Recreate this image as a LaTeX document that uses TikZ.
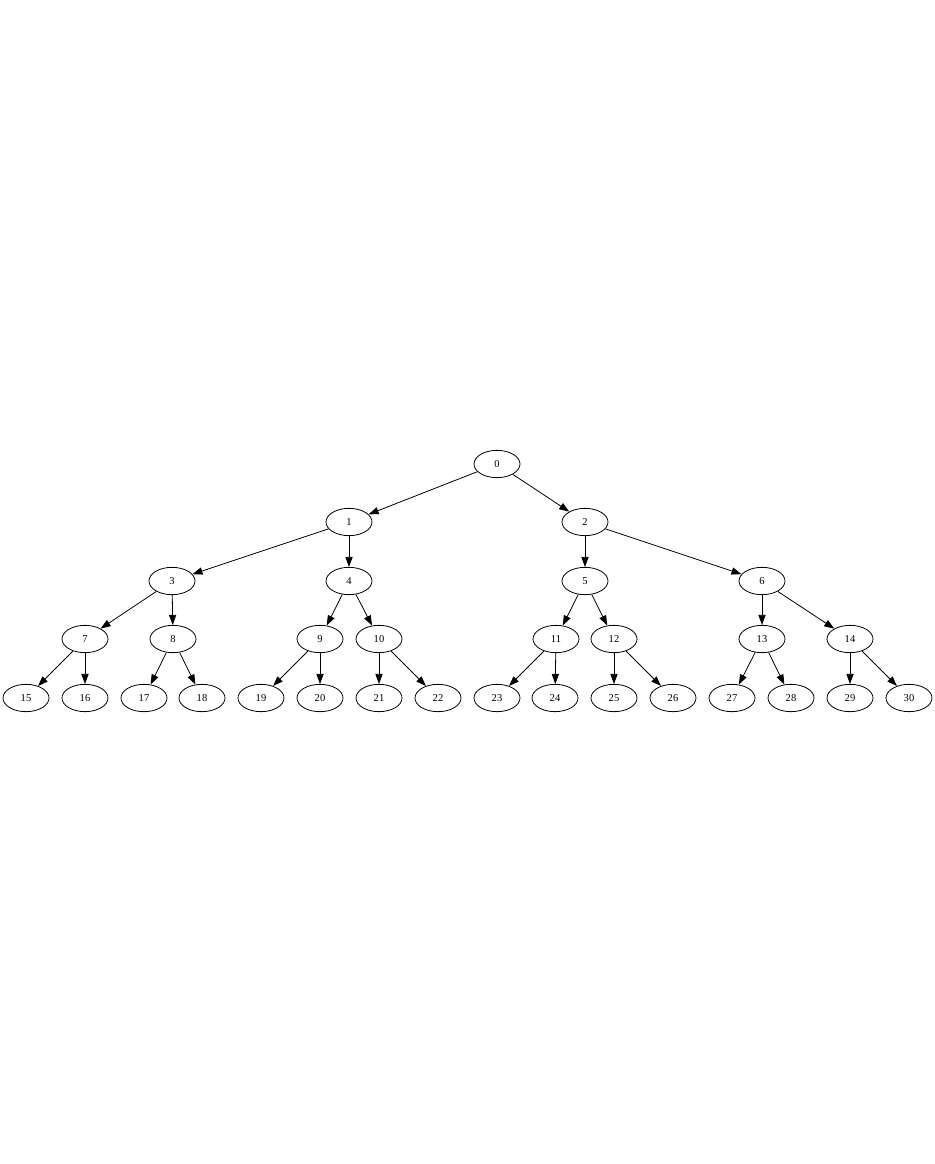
\documentclass[tikz,border=0pt]{standalone}
\usepackage{fontspec}
\setmainfont{Liberation Serif}
\usetikzlibrary{shapes.geometric,arrows.meta}
\begin{document}
\begin{tikzpicture}[x=0.75pt,y=-0.75pt,
  tn/.style={draw,ellipse,minimum width=34.5pt,minimum height=20.5pt,inner sep=0pt,font=\fontsize{7.9}{9}\selectfont,line width=0.6pt},
  ed/.style={-{Triangle[length=7.5pt,width=5.4pt]},line width=0.6pt}]
\useasboundingbox (0,0) rectangle (935,1164);
\node[tn] (n0) at (497,464) {0};
\node[tn] (n1) at (349,522) {1};
\node[tn] (n2) at (585,522) {2};
\node[tn] (n3) at (172,581) {3};
\node[tn] (n4) at (349,581) {4};
\node[tn] (n5) at (585,581) {5};
\node[tn] (n6) at (762,581) {6};
\node[tn] (n7) at (85,639) {7};
\node[tn] (n8) at (173,639) {8};
\node[tn] (n9) at (320,639) {9};
\node[tn] (n10) at (379,639) {10};
\node[tn] (n11) at (556,639) {11};
\node[tn] (n12) at (614,639) {12};
\node[tn] (n13) at (762,639) {13};
\node[tn] (n14) at (850,639) {14};
\node[tn] (n15) at (26,698) {15};
\node[tn] (n16) at (85,698) {16};
\node[tn] (n17) at (144,698) {17};
\node[tn] (n18) at (202,698) {18};
\node[tn] (n19) at (261,698) {19};
\node[tn] (n20) at (320,698) {20};
\node[tn] (n21) at (379,698) {21};
\node[tn] (n22) at (438,698) {22};
\node[tn] (n23) at (497,698) {23};
\node[tn] (n24) at (555,698) {24};
\node[tn] (n25) at (614,698) {25};
\node[tn] (n26) at (673,698) {26};
\node[tn] (n27) at (732,698) {27};
\node[tn] (n28) at (791,698) {28};
\node[tn] (n29) at (850,698) {29};
\node[tn] (n30) at (909,698) {30};
\foreach \p/\c in {0/1,0/2,1/3,1/4,2/5,2/6,3/7,3/8,4/9,4/10,5/11,5/12,6/13,6/14,
  7/15,7/16,8/17,8/18,9/19,9/20,10/21,10/22,11/23,11/24,12/25,12/26,13/27,13/28,14/29,14/30}
  \draw[ed] (n\p) -- (n\c);
\end{tikzpicture}
\end{document}
